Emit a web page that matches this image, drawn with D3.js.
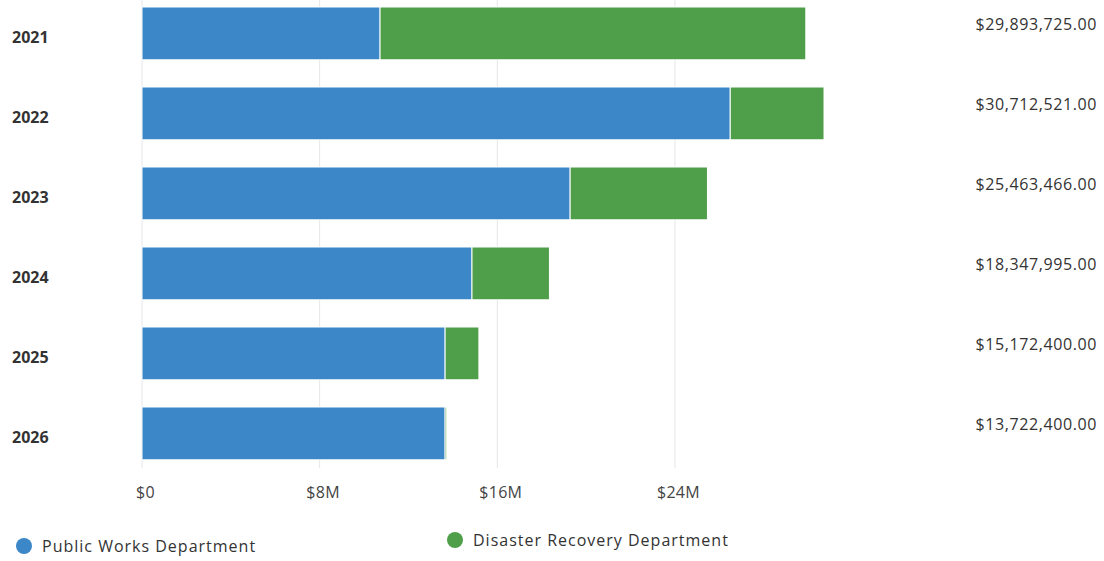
<!DOCTYPE html>
<html>
<head>
<meta charset="utf-8">
<script src="https://cdn.jsdelivr.net/npm/d3@7"></script>
<style>
  html, body { margin: 0; padding: 0; background: #ffffff; }
  svg { display: block; font-family: "Open Sans", "DejaVu Sans", sans-serif; }
</style>
</head>
<body>
<svg id="chart" width="1104" height="561"></svg>
<script>
// Budget by fiscal year, split by department (USD)
const years = ["2021", "2022", "2023", "2024", "2025", "2026"];
const publicWorks = [10720000, 26490000, 19280000, 14860000, 13650000, 13650000];
const totals = [29893725, 30712521, 25463466, 18347995, 15172400, 13722400];
const disasterRecovery = totals.map((t, i) => t - publicWorks[i]);
const tickValues = [0, 8000000, 16000000, 24000000];
const tickLabels = ["$0", "$8M", "$16M", "$24M"];
const seriesNames = ["Public Works Department", "Disaster Recovery Department"];
const seriesColors = ["#3b87c7", "#4f9f4a"];

const svg = d3.select("#chart");

const x = d3.scaleLinear().domain([0, 30712521]).range([142, 824]);
const y = d3.scaleBand().domain(years).range([-1, 467.8]).paddingInner(0.34).paddingOuter(0.1);

// vertical grid lines
svg.append("g")
  .selectAll("line")
  .data(tickValues)
  .join("line")
  .attr("x1", d => x(d)).attr("x2", d => x(d))
  .attr("y1", 0).attr("y2", 468)
  .attr("stroke", "#e6e6e6")
  .attr("stroke-width", 1);

// x axis labels
const xAxis = d3.axisBottom(x)
  .tickValues(tickValues)
  .tickFormat((d, i) => tickLabels[i])
  .tickSize(0)
  .tickPadding(0);
const axisG = svg.append("g").attr("transform", "translate(3,484)").call(xAxis);
axisG.select(".domain").remove();
axisG.selectAll("text")
  .attr("dy", "0.9em")
  .attr("font-size", 16)
  .attr("letter-spacing", "0.3px")
  .attr("fill", "#444")
  .attr("font-family", "'Open Sans', sans-serif");

// stacked bars
const rows = years.map((yr, i) => ({ year: yr, values: [publicWorks[i], disasterRecovery[i]] }));
const stack = d3.stack().keys([0, 1]).value((d, k) => d.values[k]);
const layers = stack(rows);

svg.append("g")
  .selectAll("g")
  .data(layers)
  .join("g")
  .attr("fill", (d, i) => seriesColors[i])
  .selectAll("rect")
  .data(d => d)
  .join("rect")
  .attr("x", d => x(d[0]))
  .attr("y", d => y(d.data.year))
  .attr("width", d => Math.max(0, x(d[1]) - x(d[0])))
  .attr("height", y.bandwidth())
  .attr("stroke", "#ffffff")
  .attr("stroke-width", 1);

// year labels
svg.append("g")
  .selectAll("text")
  .data(years)
  .join("text")
  .attr("x", 12)
  .attr("y", d => y(d) + y.bandwidth() / 2 + 4)
  .attr("dy", "0.35em")
  .attr("font-size", 16)
  .attr("font-weight", "bold")
  .attr("fill", "#333")
  .text(d => d);

// total labels on the right
const fmt = d3.format("$,.2f");
svg.append("g")
  .selectAll("text")
  .data(totals)
  .join("text")
  .attr("x", 1097)
  .attr("y", (d, i) => y(years[i]) + y.bandwidth() / 2 - 9)
  .attr("dy", "0.35em")
  .attr("text-anchor", "end")
  .attr("font-size", 16)
  .attr("letter-spacing", "0.6px")
  .attr("fill", "#333")
  .text(d => fmt(d));

// legend
const legendX = [24, 455];
const legendY = [546, 540];
const legend = svg.append("g")
  .selectAll("g")
  .data(seriesNames)
  .join("g")
  .attr("transform", (d, i) => `translate(${legendX[i]},${legendY[i]})`);
legend.append("circle")
  .attr("r", 8)
  .attr("fill", (d, i) => seriesColors[i]);
legend.append("text")
  .attr("x", 18)
  .attr("dy", "0.35em")
  .attr("font-size", 16)
  .attr("letter-spacing", "1px")
  .attr("fill", "#333")
  .text(d => d);
</script>
</body>
</html>
